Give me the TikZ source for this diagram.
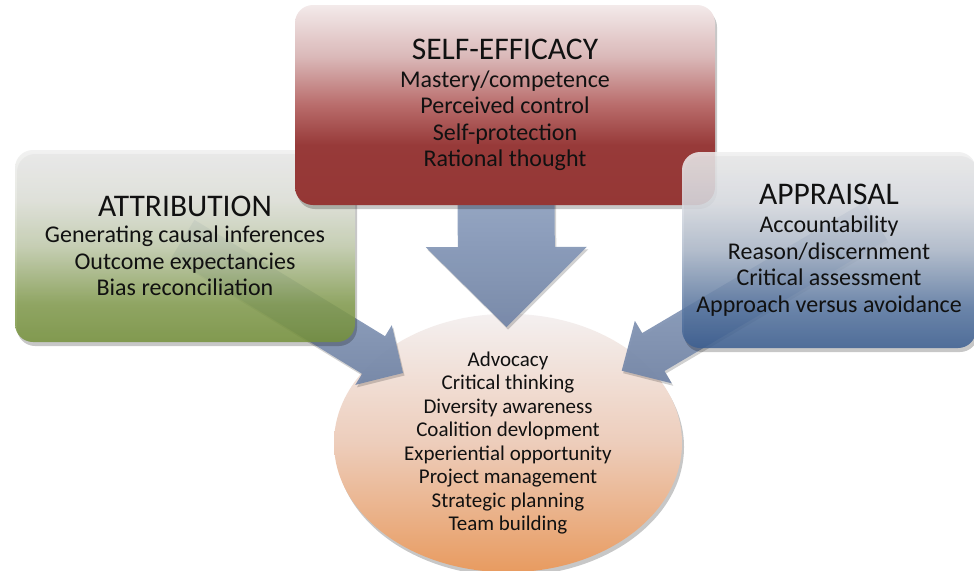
\documentclass[tikz,border=0pt]{standalone}
\usepackage{fontspec}
\setmainfont{Carlito}
\usetikzlibrary{calc,shadows,shapes.geometric}

\definecolor{inktext}{HTML}{111111}
\definecolor{redD}{HTML}{953735}
\definecolor{redA}{HTML}{973A39}
\definecolor{redM}{HTML}{B96C6B}
\definecolor{redN}{HTML}{DAB8B8}
\definecolor{redL}{HTML}{F3EAEA}
\definecolor{grnD}{HTML}{76923C}
\definecolor{grnA}{HTML}{87A053}
\definecolor{grnM}{HTML}{C6D0B1}
\definecolor{grnN}{HTML}{E3E5DD}
\definecolor{grnL}{HTML}{EFEFEF}
\definecolor{bluD}{HTML}{3C5F92}
\definecolor{bluA}{HTML}{5B79A4}
\definecolor{bluM}{HTML}{B0BCCD}
\definecolor{bluN}{HTML}{DCDFE5}
\definecolor{bluL}{HTML}{EFEFEF}
\definecolor{orgD}{HTML}{E89B60}
\definecolor{orgM}{HTML}{EDCDBB}
\definecolor{orgL}{HTML}{F4F0F0}
\definecolor{arwT}{HTML}{9DAFCC}
\definecolor{arwB}{HTML}{7587A8}

% vertical shadings: the shaded path spans 25bp (bottom) to 75bp (top)
\pgfdeclareverticalshading{effshade}{100bp}{color(0bp)=(redD); color(25bp)=(redD);
  color(40bp)=(redA); color(50bp)=(redM); color(62bp)=(redN); color(75bp)=(redL); color(100bp)=(redL)}
\pgfdeclareverticalshading{attshade}{100bp}{color(0bp)=(grnD); color(25bp)=(grnD);
  color(35bp)=(grnA); color(50bp)=(grnM); color(62bp)=(grnN); color(75bp)=(grnL); color(100bp)=(grnL)}
\pgfdeclareverticalshading{appshade}{100bp}{color(0bp)=(bluD); color(25bp)=(bluD);
  color(35bp)=(bluA); color(50bp)=(bluM); color(62bp)=(bluN); color(75bp)=(bluL); color(100bp)=(bluL)}
\pgfdeclareverticalshading{outshade}{100bp}{color(0bp)=(orgD); color(25bp)=(orgD);
  color(50bp)=(orgM); color(75bp)=(orgL); color(100bp)=(orgL)}
\pgfdeclareverticalshading{arwshade}{100bp}{color(0bp)=(arwB); color(25bp)=(arwB);
  color(75bp)=(arwT); color(100bp)=(arwT)}

\newcommand\headfont{\fontsize{31.5}{36}\selectfont}
\newcommand\bodyfont{\fontsize{24}{26.5}\selectfont}
\newcommand\smallbodyfont{\fontsize{21}{23.5}\selectfont}

% block arrow: [options]{tail}{tip}{shaft half width}{head half width}{head length}
\newcommand\blockarrow[6][]{%
  \coordinate (#3-base) at ($(#3)!#6!(#2)$);
  \path[blockfill,#1]
    ($(#2)!#4!90:(#3)$) -- ($(#3-base)!#4!90:(#3)$) -- ($(#3-base)!#5!90:(#3)$)
    -- (#3)
    -- ($(#3-base)!#5!-90:(#3)$) -- ($(#3-base)!#4!-90:(#3)$) -- ($(#2)!#4!-90:(#3)$)
    -- cycle;
}

\tikzset{
  softshadow/.style={drop shadow={shadow xshift=2pt, shadow yshift=-4pt, opacity=0.22, fill=black}},
  box/.style={rounded corners=18pt, align=center, inner sep=0pt, text=inktext,
    font=\bodyfont, softshadow},
  outcome/.style={ellipse, align=center, inner sep=0pt, text=inktext,
    font=\smallbodyfont, shading=outshade, softshadow},
  blockfill/.style={shading=arwshade, fill opacity=0.95,
    drop shadow={shadow xshift=1.5pt, shadow yshift=-2.5pt, opacity=0.18, fill=black}},
}

\begin{document}
\begin{tikzpicture}[x=1pt,y=-1pt]
\useasboundingbox (0,0) rectangle (974,570);
\fill[white] (0,0) rectangle (974,570);

% central outcome ellipse
\node[outcome, minimum width=348pt, minimum height=250pt] (out) at (508,443)
  {Advocacy\\Critical thinking\\Diversity awareness\\Coalition devlopment\\
   Experiential opportunity\\Project management\\Strategic planning\\Team building};

% arrow end points
\coordinate (effTail) at (506,150);
\coordinate (effTip)  at (506.5,327);
\coordinate (attTail) at (183,238.6);
\coordinate (attTip)  at (403,373);
\coordinate (appTail) at (875.7,220.8);
\coordinate (appTip)  at (621.7,370.7);

\blockarrow{effTail}{effTip}{48.5pt}{80.5pt}{80pt}
\blockarrow{attTail}{attTip}{22pt}{35pt}{34.5pt}
\blockarrow{appTail}{appTip}{22pt}{36.3pt}{36.7pt}

% source boxes
\node[box, minimum width=340pt, minimum height=192pt, shading=attshade, fill opacity=0.86, text opacity=1]
  (att) at (185,246)
  {{\headfont ATTRIBUTION}\\Generating causal inferences\\Outcome expectancies\\Bias reconciliation};

\node[box, minimum width=420pt, minimum height=200pt, shading=effshade]
  (eff) at (505,105)
  {{\headfont SELF-EFFICACY}\\[1pt]Mastery/competence\\Perceived control\\Self-protection\\Rational thought};

\node[box, minimum width=294pt, minimum height=196pt, shading=appshade, fill opacity=0.86, text opacity=1]
  (app) at (829,250)
  {{\headfont APPRAISAL}\\[2pt]Accountability\\Reason/discernment\\Critical assessment\\Approach versus avoidance};
\end{tikzpicture}
\end{document}
